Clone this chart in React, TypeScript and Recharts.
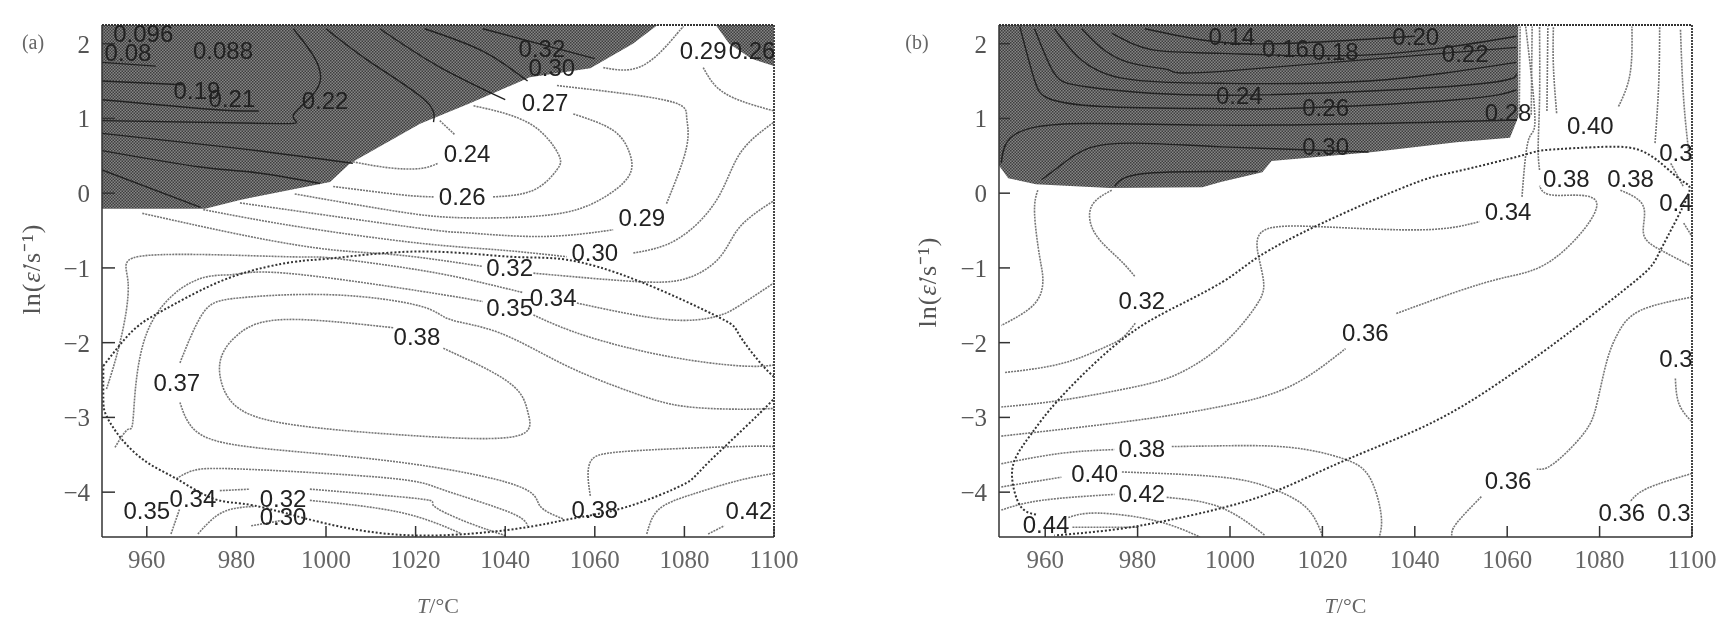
import React from "react";
import { ComposedChart, Line, Area, XAxis, YAxis, ReferenceDot, ReferenceLine } from "recharts";

type P = [number, number];
type L = [string, number, number];

const xTicks = [960, 980, 1000, 1020, 1040, 1060, 1080, 1100];
const yTicks = [-4, -3, -2, -1, 0, 1, 2];

// ---------- panel (a) ----------
const darkA: [number, number][] = [
  [950, -0.21], [973, -0.21], [980.8, -0.09], [1000.9, 0.15], [1005.4, 0.4], [1021, 0.93],
  [1032, 1.2], [1045.5, 1.55], [1059, 1.67], [1068.5, 2.0], [1074, 2.25],
];
const darkA2: [number, number][] = [[1087, 2.25], [1090, 2.0], [1095, 1.8], [1100, 1.7]];

const darkLinesA: P[][] = [
  [[950, 0.97], [989.7, 0.93], [992.7, 1.04], [998.7, 1.5], [992.7, 2.2]],
  [[950, 0.8], [979, 0.61], [1006, 0.4]],
  [[950, 0.57], [972, 0.35], [985, 0.27], [998.7, 0.13]],
  [[950, 0.31], [972, -0.19]],
  [[950, 1.25], [975, 1.12], [985, 1.1]],
  [[950, 1.5], [968, 1.45]],
  [[950, 1.75], [962, 1.7]],
  [[1000, 2.2], [1010, 1.75], [1022, 1.25], [1024, 0.95]],
  [[1012, 2.2], [1025, 1.7], [1040, 1.25]],
  [[1022, 2.2], [1035, 1.9], [1045, 1.5]],
  [[1035, 2.2], [1060, 1.8]],
];

const contourA: P[][] = [
  [[1006, 0.42], [1014, 0.34], [1021, 0.33], [1025, 0.4]],
  [[1025.4, 0.97], [1028.8, 0.78]],
  [[1001.6, 0.09], [1016.5, -0.02], [1024, -0.05]],
  [[1037.3, -0.05], [1046.3, 0.04], [1051.5, 0.31], [1051.8, 0.53], [1045.5, 0.93], [1032.9, 1.17]],
  [[1055.2, 1.06], [1064.1, 0.84], [1067.8, 0.53], [1067.5, 0.22], [1061.1, -0.09], [1050, -0.29], [1031.4, -0.33], [1016.5, -0.25], [993, -0.01]],
  [[980.8, -0.13], [1021, -0.47], [1031.4, -0.53], [1047.7, -0.58], [1064.1, -0.49]],
  [[1076, -0.14], [1080.5, 0.62], [1080.5, 1.02], [1076, 1.24], [1051.5, 1.44]],
  [[972.6, -0.22], [994, -0.45], [1021, -0.67], [1038.8, -0.76], [1053.7, -0.85]],
  [[1068.6, -0.8], [1078.3, -0.62], [1087.2, -0.09], [1092.4, 0.53], [1100, 0.95]],
  [[959, -0.27], [983, -0.58], [1001.6, -0.76], [1016.5, -0.83], [1035, -0.98]],
  [[1046.3, -1.07], [1068.6, -1.18], [1080.5, -1.14], [1088, -0.85], [1092.4, -0.45], [1100, -0.1]],
  [[951, -2.62], [954, -2.0], [955.8, -1.18], [960.7, -0.83], [991, -0.85], [1001.6, -0.87], [1021, -1.03], [1035, -1.2], [1044, -1.33]],
  [[1056, -1.47], [1076, -1.69], [1087, -1.65], [1092.4, -1.5], [1100, -1.2]],
  [[952.9, -3.4], [955.8, -3.16], [957, -2.98], [960, -1.87], [970.4, -1.18], [979, -1.09], [991, -1.07], [1021, -1.31], [1035, -1.45]],
  [[1046.3, -1.63], [1058, -1.91], [1076, -2.18], [1092.4, -2.31], [1100, -2.3]],
  [[967.4, -2.27], [972.6, -1.6], [980.8, -1.4], [1001.6, -1.36], [1021, -1.51], [1027.7, -1.69], [1038.8, -1.87], [1053.7, -2.31], [1068.6, -2.67], [1079.7, -2.85], [1092.4, -2.89], [1100, -2.88]],
  [[967.4, -2.8], [971.8, -3.22], [986.7, -3.42], [1016.5, -3.6], [1042.5, -3.91], [1047.7, -4.18], [1053, -4.36]],
  [[1015, -1.8], [991, -1.69], [980.8, -1.87], [976.7, -2.18], [976.7, -2.54], [980.8, -2.89], [994, -3.11], [1021, -3.25], [1042.5, -3.25], [1045.1, -2.94], [1041, -2.54], [1026, -2.07]],
  [[966.6, -3.82], [970.4, -3.71], [980.8, -3.69], [1007.6, -3.78], [1021, -3.87], [1027.7, -4.0], [1041, -4.27], [1045, -4.45]],
  [[976.3, -3.98], [983, -3.96]],
  [[996.4, -3.96], [1021, -4.09], [1024, -4.18], [1031.4, -4.4], [1040, -4.58]],
  [[996.4, -4.11], [1016.5, -4.27], [1030, -4.55]],
  [[965.4, -4.56], [967.3, -4.23]],
  [[971.4, -4.56], [976.9, -4.27], [984, -4.19]],
  [[983.3, -4.45], [990, -4.38]],
  [[1059, -4.05], [1058.5, -3.79], [1059.4, -3.56], [1068, -3.45], [1091.7, -3.39], [1100, -3.39]],
  [[1071.6, -4.56], [1074.3, -4.23], [1081.7, -4.03], [1091.7, -3.85], [1100, -3.75]],
  [[1085.3, -4.56], [1088.9, -4.45]],
  [[1061.9, 1.68], [1070.8, 1.71], [1078.3, 2.13], [1079.7, 2.22]],
  [[1084.2, 1.68], [1087.2, 1.42], [1092.4, 1.24], [1100, 1.1]],
];

const ellipseA: P[] = [
  [950.3, -2.31], [954, -2.03], [958.4, -1.76], [966, -1.49], [979, -1.12], [992.7, -0.92], [1001.6, -0.87],
  [1021, -0.78], [1041, -0.85], [1053.7, -0.89], [1070, -1.18], [1088, -1.67], [1092.4, -1.91], [1099.5, -2.43],
  [1100, -2.75], [1085.4, -3.6], [1079.7, -3.9], [1067, -4.2], [1054.4, -4.36], [1042.5, -4.49], [1020.5, -4.58],
  [1000, -4.42], [984, -4.18], [975, -4.09], [966.6, -3.82], [960, -3.6], [954.4, -3.29], [951, -2.98], [950.3, -2.76], [950.3, -2.31],
];

const labelsA: L[] = [
  ["0.096", 959.2, 2.13], ["0.08", 955.8, 1.88], ["0.088", 977, 1.91], ["0.19", 971.2, 1.37], ["0.21", 979, 1.27],
  ["0.22", 999.8, 1.24], ["0.32", 1048.2, 1.93], ["0.30", 1050.4, 1.68], ["0.27", 1048.9, 1.21], ["0.24", 1031.5, 0.53],
  ["0.26", 1030.4, -0.05], ["0.29", 1070.5, -0.33], ["0.30", 1060, -0.8], ["0.32", 1041, -1.0], ["0.34", 1050.7, -1.39],
  ["0.35", 1041, -1.53], ["0.38", 1020.3, -1.92], ["0.37", 966.7, -2.53], ["0.35", 960, -4.25], ["0.34", 970.3, -4.09],
  ["0.32", 990.4, -4.09], ["0.30", 990.4, -4.33], ["0.38", 1060, -4.23], ["0.42", 1094.4, -4.25], ["0.29", 1084.2, 1.91],
  ["0.26", 1095.1, 1.91],
];

// ---------- panel (b) ----------
const darkB: [number, number][] = [
  [950, 0.37], [952, 0.2], [958, 0.12], [974, 0.07], [994, 0.08], [998, 0.15], [1007, 0.28], [1009, 0.43],
  [1031, 0.55], [1049, 0.68], [1060.6, 0.74], [1062.4, 1.02],
];
const darkB2: [number, number][] = [];

const darkLinesB: P[][] = [
  [[950.5, 0.4], [958.4, 0.89], [998.3, 0.91], [1062, 0.98]],
  [[954.5, 2.23], [957.7, 1.51], [960.6, 1.27], [972.2, 1.16], [998.3, 1.13], [1015.7, 1.14], [1049, 1.25], [1062, 1.38]],
  [[957.7, 2.2], [962, 1.6], [969.3, 1.42], [998.3, 1.31], [1050, 1.44], [1062, 1.6]],
  [[962, 2.2], [967, 1.83], [976.6, 1.54], [998.3, 1.47], [1030, 1.5], [1062, 1.75]],
  [[967.9, 2.2], [976.6, 1.78], [986.7, 1.65], [998.3, 1.63], [1062, 1.95]],
  [[974.4, 2.14], [983, 1.92], [998.3, 1.87], [1030, 1.85], [1062, 2.1]],
  [[981.6, 2.2], [994, 2.05], [1010, 2.0], [1040, 2.1]],
  [[959.2, 0.18], [963.5, 0.38], [969.3, 0.6], [979.5, 0.67], [998.3, 0.62], [1030, 0.55]],
  [[975, 0.09], [981, 0.26], [998.3, 0.29], [1006, 0.29]],
];

const contourB: P[][] = [
  [[958.4, 0.04], [957.7, -0.27], [958.8, -0.85], [959.5, -1.16], [957.7, -1.48], [950.5, -1.77]],
  [[974.4, 0.04], [970, -0.18], [970.8, -0.54], [975.8, -0.87], [979.5, -1.12]],
  [[979.5, -1.74], [976.6, -1.94], [972.2, -2.08], [963.5, -2.28], [951.2, -2.4]],
  [[950.5, -2.86], [963.5, -2.77], [979.5, -2.59], [989, -2.41], [998.3, -2.03], [1005.5, -1.52], [1007.3, -1.21], [1006.2, -0.85], [1007.3, -0.5], [1020, -0.45], [1041.8, -0.49], [1054, -0.38]],
  [[1063.2, -0.05], [1064.6, 0.71], [1066, 1.0], [1064, 2.23]],
  [[950.5, -3.25], [979.5, -3.04], [998.3, -2.85], [1012.8, -2.59], [1025, -2.08]],
  [[1036, -1.61], [1049, -1.32], [1060, -1.12], [1070.7, -0.85], [1079.4, -0.14], [1070.7, -0.03], [1067, 0.1]],
  [[1067, 0.31], [1066.7, 0.62], [1067, 1.25], [1067, 2.23]],
  [[950.5, -3.62], [963.5, -3.48], [975, -3.43]],
  [[987.4, -3.39], [998.3, -3.38], [1012.8, -3.4], [1024.4, -3.55], [1030.2, -3.8], [1032.7, -4.3], [1032.3, -4.6]],
  [[950.5, -3.93], [963.5, -3.8]],
  [[976.6, -3.73], [998.3, -3.8], [1009, -3.95], [1016.4, -4.2], [1020, -4.58]],
  [[950.5, -4.24], [959.2, -4.11], [975, -4.03]],
  [[986.3, -4.07], [997.8, -4.2], [1007.6, -4.58]],
  [[965, -4.34], [971.3, -4.28], [983.7, -4.38], [993.5, -4.6]],
  [[965.9, -4.47], [980.2, -4.47]],
  [[1070.7, 1.07], [1070, 1.7], [1070, 2.23]],
  [[1084.1, 1.16], [1086.6, 1.6], [1087, 2.23]],
  [[1092, 0.67], [1092.8, 1.47], [1093, 2.23]],
  [[1099.5, 0.44], [1098.2, 1.25], [1097.5, 2.2]],
  [[1062.6, 1.05], [1062.8, 2.23]],
  [[1065.2, 1.05], [1065.4, 2.23]],
  [[1068.6, 1.1], [1068.8, 2.23]],
  [[1084.5, 0.04], [1089.5, -0.18], [1089.5, -0.54], [1093.2, -0.76], [1100, -0.98]],
  [[1095.4, 0.4], [1098.2, 0.08]],
  [[1098.2, -0.4], [1100, -0.58]],
  [[1100, -1.39], [1088.8, -1.57], [1084.1, -1.86], [1081.6, -2.24], [1079.4, -2.82], [1076.5, -3.22], [1070, -3.62], [1066.4, -3.69]],
  [[1054.4, -4.06], [1049, -4.42], [1048, -4.58]],
  [[1096.4, -2.48], [1097.2, -2.82], [1100, -3.06]],
  [[1100, -3.75], [1090.3, -3.95], [1086.6, -4.13]],
];

const ellipseB: P[] = [
  [958, -4.3], [954.8, -4.2], [953, -3.89], [953.4, -3.57], [957, -3.22], [962.8, -2.77], [972.2, -2.19], [979.5, -1.83],
  [986.7, -1.57], [998.3, -1.19], [1006.2, -0.85], [1020, -0.4], [1038.9, 0.11], [1049, 0.29], [1063.5, 0.51], [1068.9, 0.58],
  [1080.9, 0.62], [1090.3, 0.53], [1097.5, 0.18], [1099, -0.05], [1093.2, -0.76], [1088, -1.16], [1072.2, -1.92], [1060, -2.46],
  [1044.7, -3.04], [1025.8, -3.55], [1011.3, -3.95], [999, -4.2], [986.3, -4.38], [975, -4.5], [962, -4.58],
];

const labelsB: L[] = [
  ["0.14", 1000.4, 2.09], ["0.16", 1012, 1.94], ["0.18", 1022.8, 1.89], ["0.20", 1040.2, 2.09], ["0.22", 1050.9, 1.87],
  ["0.24", 1002, 1.31], ["0.26", 1020.7, 1.15], ["0.28", 1060.2, 1.08], ["0.30", 1020.7, 0.62], ["0.34", 1060.2, -0.25],
  ["0.40", 1078, 0.91], ["0.38", 1072.8, 0.2], ["0.38", 1086.7, 0.2], ["0.4", 1096.5, -0.13], ["0.3", 1096.5, 0.54],
  ["0.3", 1096.5, -2.21], ["0.36", 1084.8, -4.27], ["0.3", 1096.1, -4.27], ["0.32", 980.9, -1.43], ["0.38", 980.9, -3.41],
  ["0.40", 970.7, -3.75], ["0.42", 980.9, -4.02], ["0.44", 960.2, -4.43], ["0.36", 1029.3, -1.87], ["0.36", 1060.2, -3.84],
];

const serif = "'Liberation Serif', serif";
const sans = "'Liberation Sans', Arial, sans-serif";

const XTitle = (p: any) => (
  <text x={p.cx} y={613} textAnchor="middle" fontFamily={serif} fontSize={22} fill="#666">
    <tspan fontStyle="italic">T</tspan>/°C
  </text>
);

const YTitle = (p: any) => {
  const px = p.tagX;
  const cy = p.titleY;
  return (
    <g>
      <text x={px} y={cy} transform={`rotate(-90 ${px} ${cy})`} textAnchor="middle" fontFamily={serif} fontSize={26} letterSpacing={1} fill="#555" dominantBaseline="central">
        ln(<tspan fontStyle="italic">ε̇</tspan>/s⁻¹)
      </text>
      <text x={p.tagPos} y={49} textAnchor="middle" fontFamily={serif} fontSize={20} fill="#666">{p.tag}</text>
    </g>
  );
};

const toXY = (pts: P[]) => pts.map(([x, y]) => ({ x, y }));

interface PanelProps {
  left: number; width: number; plotLeft: number; plotRight: number;
  dark: [number, number][]; dark2: [number, number][]; darkLines: P[][]; contours: P[][]; ellipse: P[]; labels: L[];
  tag: string; tagPos: number; titleX: number; titleY: number; yTickLen: number;
}

function Panel(p: PanelProps) {
  const band = p.dark.map(([x, lo]) => ({ x, band: [lo, 2.25] }));
  const band2 = p.dark2.map(([x, lo]) => ({ x, band: [lo, 2.25] }));
  return (
    <div style={{ position: "absolute", left: p.left, top: 0 }}>
      <ComposedChart
        width={p.width}
        height={631}
        margin={{ left: 0, top: 25, right: p.left + p.width - p.plotRight, bottom: 0 }}
      >
        <XAxis
          dataKey="x" type="number" domain={[950, 1100]} ticks={xTicks} interval={0} allowDataOverflow height={94}
          tickSize={-11} tickMargin={24} stroke="#333" strokeWidth={1.5}
          tickLine={{ stroke: "#333", strokeWidth: 1.5 }}
          tick={{ fontFamily: serif, fontSize: 25, fill: "#666" }}
          label={<XTitle cx={(p.plotLeft + p.plotRight) / 2 - p.left} />}
        />
        <YAxis
          type="number" domain={[-4.6, 2.25]} ticks={yTicks} interval={0} allowDataOverflow width={p.plotLeft - p.left}
          tickSize={-p.yTickLen} tickMargin={p.yTickLen + 12} stroke="#333" strokeWidth={1.5}
          tickLine={{ stroke: "#333", strokeWidth: 1.5 }}
          tick={{ fontFamily: serif, fontSize: 25, fill: "#555" }}
          tickFormatter={(v: number) => (v < 0 ? "−" + Math.abs(v) : String(v))}
          label={<YTitle tag={p.tag} tagPos={p.tagPos} tagX={p.titleX - p.left} titleY={p.titleY} />}
        />
        <Area data={band} dataKey="band" type="linear" stroke="none" fill="url(#halftone)" fillOpacity={1} isAnimationActive={false} dot={false} activeDot={false} />
        {p.dark2.length > 0 && (
          <Area data={band2} dataKey="band" type="linear" stroke="none" fill="url(#halftone)" fillOpacity={1} isAnimationActive={false} dot={false} activeDot={false} />
        )}
        {p.contours.map((c, i) => (
          <Line key={"c" + i} data={toXY(c)} dataKey="y" type="natural" stroke="#777" strokeWidth={1.6} strokeDasharray="2 1" dot={false} activeDot={false} isAnimationActive={false} />
        ))}
        {p.darkLines.map((c, i) => (
          <Line key={"d" + i} data={toXY(c)} dataKey="y" type="natural" stroke="#222" strokeWidth={1.4} dot={false} activeDot={false} isAnimationActive={false} />
        ))}
        <Line data={toXY(p.ellipse)} dataKey="y" type="natural" stroke="#333" strokeWidth={2} strokeDasharray="2 2" dot={false} activeDot={false} isAnimationActive={false} />
        <ReferenceLine y={2.25} stroke="#333" strokeWidth={2} strokeDasharray="2 1" />
        <ReferenceLine x={1100} stroke="#444" strokeWidth={2} strokeDasharray="2 1" />
        {p.labels.map(([t, x, y], i) => (
          <ReferenceDot
            key={"l" + i} x={x} y={y} r={0} stroke="none" fill="none"
            label={{ value: t, position: "center", fontFamily: sans, fontSize: 24, fill: "#222" }}
          />
        ))}
      </ComposedChart>
    </div>
  );
}

export default function App() {
  return (
    <div style={{ position: "absolute", left: 0, top: 0, width: 1733, height: 631, background: "#fff", overflow: "hidden", filter: "blur(0.5px)" }}>
      <svg width={0} height={0} style={{ position: "absolute" }}>
        <defs>
          <pattern id="halftone" width={3} height={3} patternUnits="userSpaceOnUse">
            <rect width={3} height={3} fill="#858585" />
            <rect width={1.5} height={1.5} fill="#3e3e3e" />
            <rect x={1.5} y={1.5} width={1.5} height={1.5} fill="#3e3e3e" />
          </pattern>
        </defs>
      </svg>
      <Panel left={0} width={860} plotLeft={102} plotRight={774} dark={darkA} dark2={darkA2} darkLines={darkLinesA} contours={contourA} ellipse={ellipseA} labels={labelsA} tag="(a)" tagPos={33} titleX={31} titleY={269} yTickLen={13} />
      <Panel left={860} width={873} plotLeft={999} plotRight={1692} dark={darkB} dark2={darkB2} darkLines={darkLinesB} contours={contourB} ellipse={ellipseB} labels={labelsB} tag="(b)" tagPos={57} titleX={927} titleY={282} yTickLen={11} />
    </div>
  );
}
